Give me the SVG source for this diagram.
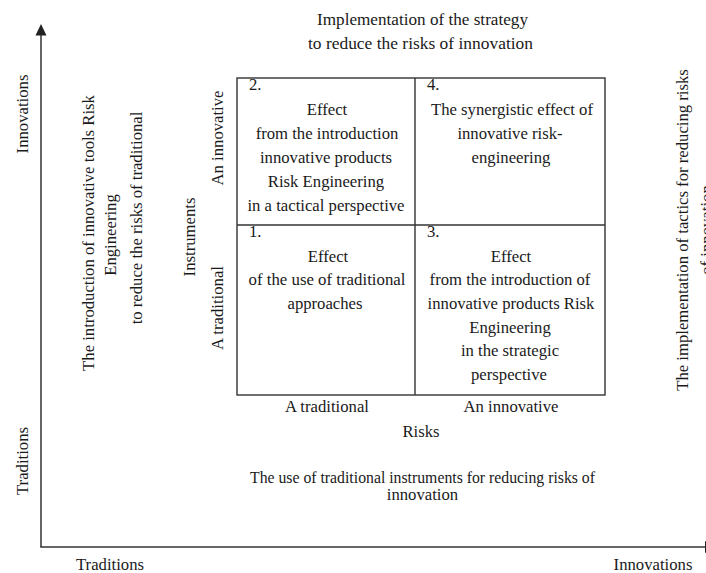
<svg xmlns="http://www.w3.org/2000/svg" width="706" height="573" viewBox="0 0 706 573">
<style>
text{font-family:"Liberation Serif","Times New Roman",serif;font-size:16.7px;fill:#1a1a1a}
.c{text-anchor:middle}
.ln{stroke:#333;stroke-width:1.4;fill:none}
.ax{stroke:#333;stroke-width:1.5;fill:none}
</style>
<rect width="706" height="573" fill="#fff"/>
<g id="connectors">
<line class="ax" x1="41" y1="33" x2="41" y2="547"/>
<polygon points="41,24 35.5,35.5 46.5,35.5" fill="#222"/>
<line class="ax" x1="40.3" y1="547" x2="705" y2="547"/>
<polygon points="705,541 705,553 717,547" fill="#222"/>
</g>
<g id="matrix">
<rect class="ln" x="237" y="78" width="368" height="317"/>
<line class="ln" x1="415" y1="78" x2="415" y2="395"/>
<line class="ln" x1="237" y1="225" x2="605" y2="225"/>
</g>
<g id="q2">
<text x="249" y="90">2.</text>
<text class="c" x="327" y="115">Effect</text>
<text class="c" x="327" y="139">from the introduction</text>
<text class="c" x="326" y="163">innovative products</text>
<text class="c" x="326" y="187">Risk Engineering</text>
<text class="c" x="326" y="211">in a tactical perspective</text>
</g>
<g id="q4">
<text x="427" y="90">4.</text>
<text class="c" x="512" y="115">The synergistic effect of</text>
<text class="c" x="510" y="139">innovative risk-</text>
<text class="c" x="511" y="163">engineering</text>
</g>
<g id="q1">
<text x="249" y="237">1.</text>
<text class="c" x="328" y="262">Effect</text>
<text class="c" x="327" y="285" textLength="157" lengthAdjust="spacingAndGlyphs">of the use of traditional</text>
<text class="c" x="325" y="309">approaches</text>
</g>
<g id="q3">
<text x="427" y="237">3.</text>
<text class="c" x="511" y="262">Effect</text>
<text class="c" x="510" y="285">from the introduction of</text>
<text class="c" x="511" y="309">innovative products Risk</text>
<text class="c" x="510" y="333">Engineering</text>
<text class="c" x="510" y="356">in the strategic</text>
<text class="c" x="509" y="380">perspective</text>
</g>
<g id="top-label">
<text class="c" x="422.5" y="25" textLength="211" lengthAdjust="spacingAndGlyphs">Implementation of the strategy</text>
<text class="c" x="420.5" y="49" textLength="225" lengthAdjust="spacingAndGlyphs">to reduce the risks of innovation</text>
</g>
<g id="risks-axis">
<text class="c" x="327" y="412">A traditional</text>
<text class="c" x="511" y="412">An innovative</text>
<text class="c" x="421" y="437">Risks</text>
</g>
<g id="bottom-label">
<text class="c" x="422.5" y="483" textLength="345" lengthAdjust="spacingAndGlyphs">The use of traditional instruments for reducing risks of</text>
<text class="c" x="422.5" y="500">innovation</text>
</g>
<g id="instruments-axis">
<text class="c" transform="translate(195,237) rotate(-90)">Instruments</text>
<text class="c" transform="translate(223,138) rotate(-90)">An innovative</text>
<text class="c" transform="translate(223,308) rotate(-90)">A traditional</text>
</g>
<g id="left-label">
<text class="c" transform="translate(94,233) rotate(-90)">The introduction of innovative tools Risk</text>
<text class="c" transform="translate(116,235) rotate(-90)">Engineering</text>
<text class="c" transform="translate(142,218) rotate(-90)">to reduce the risks of traditional</text>
</g>
<g id="right-label">
<text class="c" transform="translate(688,230) rotate(-90)">The implementation of tactics for reducing risks</text>
<text class="c" transform="translate(712,230) rotate(-90)">of innovation</text>
</g>
<g id="y-axis-labels">
<text class="c" transform="translate(28,114) rotate(-90)">Innovations</text>
<text class="c" transform="translate(28,461) rotate(-90)">Traditions</text>
</g>
<g id="x-axis-labels">
<text class="c" x="110" y="570">Traditions</text>
<text class="c" x="653" y="570">Innovations</text>
</g>
</svg>
